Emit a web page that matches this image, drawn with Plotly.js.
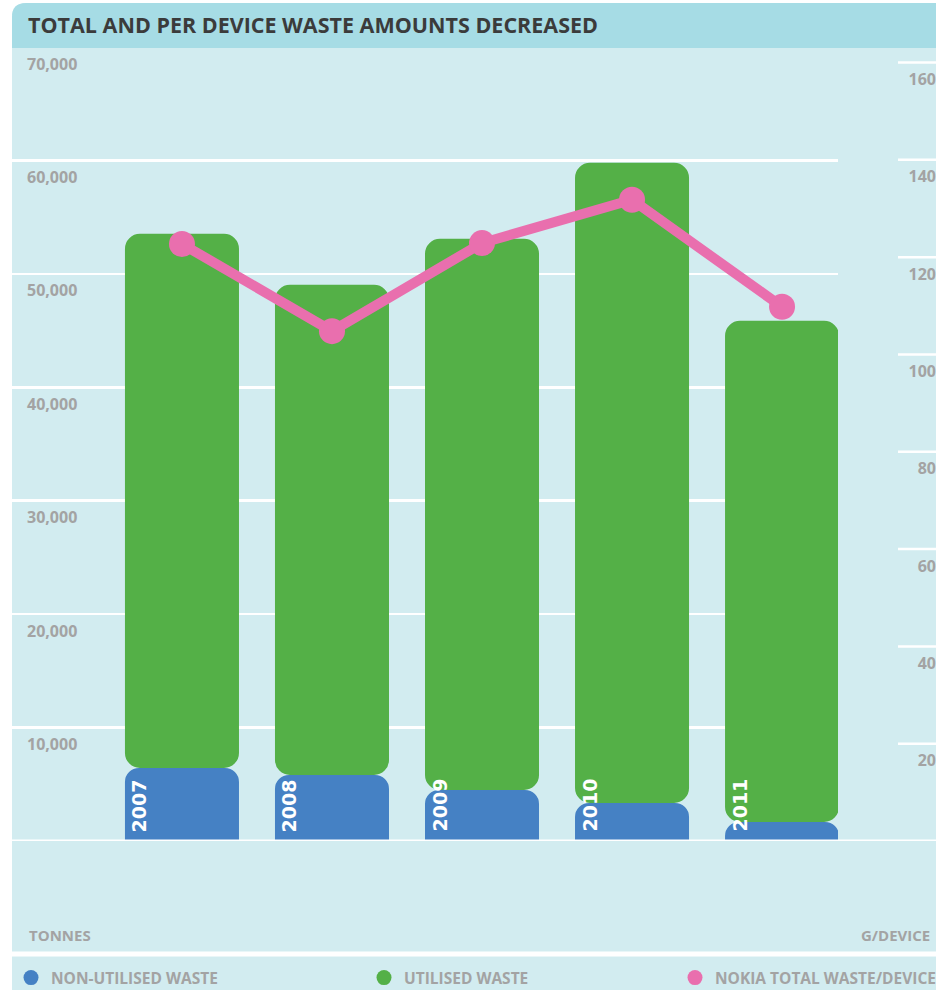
<!DOCTYPE html>
<html>
<head>
<meta charset="utf-8">
<script src="https://cdn.plot.ly/plotly-3.0.1.min.js"></script>
<style>html,body{margin:0;padding:0;background:#fff;overflow:hidden;}#chart{width:936px;height:990px;}</style>
</head>
<body>
<div id="chart"></div>
<script>
// ---- data ----
const years = ['2007', '2008', '2009', '2010', '2011'];
const nonUtilisedWaste = [6440, 5820, 4500, 3350, 1680];      // tonnes
const utilisedWaste = [47090, 43210, 48590, 56440, 44180];     // tonnes
const wastePerDevice = [122.7, 104.8, 122.9, 131.8, 109.8];    // g/device
const leftTickVals = [10000, 20000, 30000, 40000, 50000, 60000, 70000];
const rightTickVals = [20, 40, 60, 80, 100, 120, 140, 160];
const seriesNames = ['NON-UTILISED WASTE', 'UTILISED WASTE', 'NOKIA TOTAL WASTE/DEVICE'];

// ---- styling ----
const W = 936, H = 990, T = 47, B = 149;
const PH = H - T - B;
const X = px => px / W;
const Y = py => (H - B - py) / PH;
const BLUE = '#4581c4', GREEN = '#54b047', PINK = '#e96fae';
const BG = '#d2ecf0', BAND = '#a6dce5', GRAY = '#a3a3a3';
const FONT = 'Open Sans, Liberation Sans, sans-serif';
const BELOW_AXIS = 2500; // blue bars start below the visible axis so only their tops are rounded

const traces = [
  { type: 'bar', x: years, y: nonUtilisedWaste.map(v => v + BELOW_AXIS), base: -BELOW_AXIS,
    width: 0.76, showlegend: false, marker: { color: BLUE, cornerradius: 14 }, hoverinfo: 'skip' },
  { type: 'bar', x: years, y: utilisedWaste, base: nonUtilisedWaste, width: 0.76, showlegend: false,
    marker: { color: GREEN, cornerradius: 15 }, hoverinfo: 'skip' },
  { type: 'scatter', mode: 'lines+markers', x: years, y: wastePerDevice, yaxis: 'y2', showlegend: false,
    line: { color: PINK, width: 10 }, marker: { color: PINK, size: 26 }, hoverinfo: 'skip' },
  // legend entries
  { type: 'scatter', mode: 'markers', x: [null], y: [null], name: seriesNames[0], legend: 'legend',
    marker: { color: BLUE, size: 15, symbol: 'circle' } },
  { type: 'scatter', mode: 'markers', x: [null], y: [null], name: seriesNames[1], legend: 'legend2',
    marker: { color: GREEN, size: 15, symbol: 'circle' } },
  { type: 'scatter', mode: 'markers', x: [null], y: [null], name: seriesNames[2], legend: 'legend3',
    marker: { color: PINK, size: 15, symbol: 'circle' } }
];

const roundTL = (x0, y0, x1, y1, r) =>
  `M ${X(x0)},${Y(y1)} L ${X(x0)},${Y(y0 + r)} Q ${X(x0)},${Y(y0)} ${X(x0 + r)},${Y(y0)} L ${X(x1)},${Y(y0)} L ${X(x1)},${Y(y1)} Z`;

const shapes = [
  { type: 'path', xref: 'paper', yref: 'paper', layer: 'below', path: roundTL(12, 3, 936, 990, 14),
    fillcolor: BG, line: { width: 0 } },
  { type: 'path', xref: 'paper', yref: 'paper', layer: 'above', path: roundTL(12, 3, 936, 48, 14),
    fillcolor: BAND, line: { width: 0 } },
  { type: 'line', xref: 'paper', yref: 'y', x0: X(12), x1: 1, y0: 0, y1: 0,
    layer: 'above', line: { color: '#ffffff', width: 3 } },
  { type: 'line', xref: 'paper', yref: 'paper', x0: X(12), x1: 1, y0: Y(954), y1: Y(954),
    layer: 'below', line: { color: '#ffffff', width: 5 } }
].concat(rightTickVals.map(v => ({
  type: 'line', xref: 'paper', yref: 'y2', x0: X(898), x1: 1, y0: v, y1: v,
  layer: 'below', line: { color: '#ffffff', width: 2.5 }
})));

const yearLabels = years.map((yr, i) => ({
  x: i, xref: 'x', y: 0, yref: 'y', text: yr, showarrow: false, textangle: -90,
  xanchor: 'center', yanchor: 'bottom', xshift: -43, yshift: 7,
  font: { family: 'DejaVu Sans, sans-serif', size: 19, color: '#ffffff', weight: 700 }
}));

const tickFont = { family: FONT, size: 16, color: GRAY, weight: 700 };
const legendFont = { family: FONT, size: 15.5, color: GRAY, weight: 700 };
const legendBase = { orientation: 'h', xanchor: 'left', yanchor: 'middle', y: Y(978),
  bgcolor: 'rgba(0,0,0,0)', borderwidth: 0, font: legendFont, itemclick: false, itemdoubleclick: false };

const layout = {
  width: W, height: H,
  margin: { l: 0, r: 0, t: T, b: B, pad: 0, autoexpand: false },
  paper_bgcolor: '#ffffff', plot_bgcolor: 'rgba(0,0,0,0)',
  font: { family: FONT },
  title: { text: 'TOTAL AND PER DEVICE WASTE AMOUNTS DECREASED', xref: 'container', yref: 'container',
    x: X(28), xanchor: 'left', y: 1 - 25 / H, yanchor: 'middle',
    font: { family: FONT, size: 21.5, color: '#3b3b3b', weight: 700 } },
  barmode: 'overlay',
  showlegend: true,
  legend: Object.assign({}, legendBase, { x: X(11) }),
  legend2: Object.assign({}, legendBase, { x: X(364) }),
  legend3: Object.assign({}, legendBase, { x: X(675) }),
  xaxis: { type: 'category', domain: [X(12), X(838)], range: [-1.133, 4.373],
    showticklabels: false, showgrid: false, zeroline: false, showline: false, ticks: '', fixedrange: true },
  yaxis: { range: [0, 70000], tickvals: leftTickVals, tickformat: ',d', showgrid: true,
    gridcolor: '#ffffff', gridwidth: 2.5, zeroline: false, showline: false, ticks: '',
    ticklabelposition: 'inside', ticklabelstandoff: 12, ticklabelshift: 17, tickfont: tickFont, fixedrange: true },
  yaxis2: { overlaying: 'y', side: 'right', anchor: 'free', position: 1, range: [0, 163.2],
    tickvals: rightTickVals, showgrid: false, zeroline: false, showline: false, ticks: '',
    ticklabelposition: 'inside', ticklabelstandoff: -3, ticklabelshift: 17, tickfont: tickFont, fixedrange: true },
  shapes: shapes,
  annotations: yearLabels.concat([
    { text: 'TONNES', xref: 'paper', yref: 'paper', x: X(27), y: Y(935), xanchor: 'left', yanchor: 'middle',
      showarrow: false, font: Object.assign({}, legendFont, { size: 15 }) },
    { text: 'G/DEVICE', xref: 'paper', yref: 'paper', x: X(932), y: Y(935), xanchor: 'right', yanchor: 'middle',
      showarrow: false, font: Object.assign({}, legendFont, { size: 15 }) }
  ])
};

Plotly.newPlot('chart', traces, layout, { displayModeBar: false, staticPlot: true });
</script>
</body>
</html>
